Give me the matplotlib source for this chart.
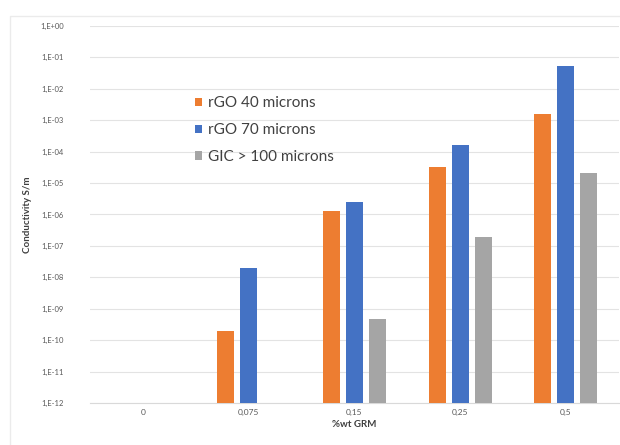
import matplotlib.pyplot as plt
import numpy as np
from matplotlib.patches import Rectangle

categories = ["0", "0,075", "0,15", "0,25", "0,5"]
series_names = ["rGO 40 microns", "rGO 70 microns", "GIC > 100 microns"]
rgo_40 = [np.nan, 2.0e-10, 1.3e-6, 3.3e-5, 1.6e-3]
rgo_70 = [np.nan, 2.0e-8, 2.5e-6, 1.6e-4, 5.4e-2]
gic_100 = [np.nan, np.nan, 4.7e-10, 1.9e-7, 2.1e-5]
exponents = list(range(-12, 1))

colors = ["#ED7D31", "#4472C4", "#A5A5A5"]
plt.rcParams["font.family"] = ["Lato", "DejaVu Sans"]

fig = plt.figure(figsize=(6.2, 4.45), dpi=100)
# faint chart-area border like the Excel export
fig.patches.append(Rectangle((0.016, -0.01), 1.0, 0.975, transform=fig.transFigure,
                             fill=False, edgecolor="#EBEBEB", linewidth=1.0))
ax = fig.add_axes([0.145, 0.094, 0.853, 0.848])

x = np.arange(len(categories))
width = 0.16
step = 0.217
floor = 1e-12
for i, (name, vals, color) in enumerate(zip(series_names, [rgo_40, rgo_70, gic_100], colors)):
    v = np.array(vals, dtype=float)
    ax.bar(x + (i - 1) * step, v - floor, width, bottom=floor, color=color, label=name, zorder=3)

ax.set_yscale("log")
ax.set_ylim(1e-12, 1)
ax.set_xlim(-0.5, len(categories) - 0.5)
ax.set_yticks([10.0 ** e for e in exponents])
ax.set_yticklabels([f"1,E{e:+03d}" for e in exponents], fontsize=5.5, color="#595959")
ax.minorticks_off()
ax.set_xticks(x)
ax.set_xticklabels(categories, fontsize=6, color="#595959")
ax.tick_params(length=0, pad=19, axis="y")
ax.tick_params(length=0, pad=4, axis="x")
ax.grid(axis="y", color="#E3E3E3", linewidth=0.8, zorder=0)
for side in ["top", "right", "left"]:
    ax.spines[side].set_visible(False)
ax.spines["bottom"].set_color("#D9D9D9")

ax.set_xlabel("%wt GRM", fontsize=7, fontweight="bold", color="#404040", labelpad=3)
ax.set_ylabel("Conductivity S/m", fontsize=7, fontweight="bold", color="#404040", labelpad=6)

ax.legend(loc="upper left", bbox_to_anchor=(0.293, 0.815), bbox_transform=fig.transFigure,
          frameon=False, fontsize=11, handlelength=0.45, handleheight=0.45,
          handletextpad=0.35, labelspacing=0.85, labelcolor="#404040")

fig.savefig("out.png", dpi=100)
